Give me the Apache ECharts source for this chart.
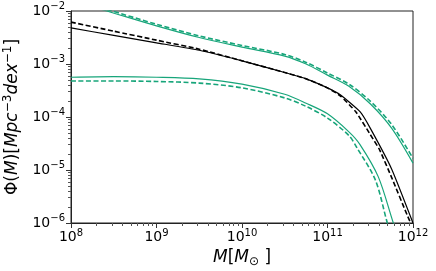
<!DOCTYPE html>
<html><head><meta charset="utf-8">
<script src="https://cdn.jsdelivr.net/npm/echarts@6/dist/echarts.min.js"></script>
<style>html,body{margin:0;padding:0;background:#fff}#c{width:436px;height:271px}</style>
</head><body><div id="c"></div>
<script>
// stellar mass values (M_sun)
const massBlackSolid = [1e8, 3.16e8, 1e9, 3.16e9, 1e10, 3.16e10, 5.62e10, 1e11, 1.41e11, 2.4e11, 3.16e11, 5.62e11, 1e12];
const phiBlackSolid  = [-2.32, -2.46, -2.60, -2.74, -2.94, -3.16, -3.28, -3.45, -3.58, -3.90, -4.21, -4.98, -6.0];
const massBlackDashed = [1e8, 3.16e8, 1e9, 3.16e9, 1e10, 3.16e10, 5.62e10, 1e11, 1.41e11, 2.14e11, 3.16e11, 4.07e11, 5.62e11, 8.7e11, 1e12];
const phiBlackDashed  = [-2.21, -2.38, -2.55, -2.72, -2.94, -3.16, -3.28, -3.45, -3.60, -3.90, -4.33, -4.62, -5.14, -5.88, -6.1];
const massGreenUpper = [1e8, 2.63e8, 1e9, 3.16e9, 1e10, 3.16e10, 5.62e10, 1e11, 1.78e11, 3.16e11, 5.62e11, 1e12];
const phiGreenUpperSolid  = [-1.80, -2.0, -2.28, -2.50, -2.68, -2.85, -3.00, -3.21, -3.42, -3.75, -4.21, -4.87];
const phiGreenUpperDashed = [-1.77, -1.97, -2.25, -2.47, -2.65, -2.82, -2.97, -3.17, -3.38, -3.70, -4.14, -4.78];
const massGreenLowerSolid = [1e8, 3.16e8, 1e9, 3.16e9, 1e10, 3.16e10, 5.62e10, 1e11, 1.78e11, 2.4e11, 3.93e11, 5.89e11, 6.31e11];
const phiGreenLowerSolid  = [-3.25, -3.24, -3.25, -3.28, -3.38, -3.57, -3.74, -3.94, -4.28, -4.52, -5.13, -6.0, -6.12];
const massGreenLowerDashed = [1e8, 3.16e8, 1e9, 3.16e9, 1e10, 3.16e10, 5.62e10, 1e11, 1.78e11, 2.21e11, 3.63e11, 5.01e11, 5.37e11];
const phiGreenLowerDashed  = [-3.32, -3.32, -3.33, -3.36, -3.45, -3.64, -3.80, -4.02, -4.35, -4.58, -5.19, -6.0, -6.12];

const xTicks = [1e8, 1e9, 1e10, 1e11, 1e12];
const xTickExp = ['8', '9', '10', '11', '12'];
const yTicks = [1e-6, 1e-5, 1e-4, 1e-3, 1e-2];
const yTickExp = ['\u22126', '\u22125', '\u22124', '\u22123', '\u22122'];

function minors(lo, hi) {
  const out = [];
  for (let e = lo; e < hi; e++) for (let k = 2; k <= 9; k++) out.push(k * Math.pow(10, e));
  return out;
}
function pairs(ms, ps) { return ms.map((m, i) => [m, Math.pow(10, ps[i])]); }

const green = '#17a57a';
const FONT = 'DejaVu Sans';
const tickRich = {
  b: { fontFamily: FONT, fontSize: 14, color: '#000' },
  s: { fontFamily: FONT, fontSize: 10, color: '#000', padding: [0, 0, 9, 0] }
};

const chart = echarts.init(document.getElementById('c'), null, { renderer: 'canvas' });
const baseX = { type: 'log', logBase: 10, min: 1e8, max: 1e12, gridIndex: 0 };
const baseY = { type: 'log', logBase: 10, min: 1e-6, max: 1e-2, gridIndex: 0 };

chart.setOption({
  animation: false,
  backgroundColor: '#fff',
  grid: { left: 71, top: 11, width: 342, height: 212, show: true, borderColor: '#222', borderWidth: 1, containLabel: false, outerBoundsMode: 'none' },
  xAxis: [
    Object.assign({}, baseX, {
      position: 'bottom',
      axisLine: { show: true, lineStyle: { color: '#222', width: 1 } },
      splitLine: { show: false },
      axisTick: { show: true, inside: false, length: 5, lineStyle: { color: '#333' }, customValues: xTicks },
      axisLabel: {
        show: true, margin: 5, customValues: xTicks,
        formatter: v => { const i = xTicks.findIndex(t => Math.abs(Math.log10(t) - Math.log10(v)) < 1e-6); return '{b|10}{s|' + xTickExp[i] + '}'; },
        rich: tickRich
      },
      name: '{i|M}{n|[}{i|M}{sub|\u2299}{n| ]}',
      nameLocation: 'middle', nameGap: 22,
      nameTextStyle: {
        rich: {
          i: { fontFamily: FONT, fontStyle: 'italic', fontSize: 17, color: '#000' },
          n: { fontFamily: FONT, fontSize: 17, color: '#000' },
          sub: { fontFamily: FONT, fontSize: 12, color: '#000', padding: [8, 0, 0, 0] }
        }
      }
    }),
    Object.assign({}, baseX, {
      position: 'bottom',
      axisLine: { show: false }, splitLine: { show: false }, axisLabel: { show: false },
      axisTick: { show: true, inside: false, length: 3, lineStyle: { color: '#555' }, customValues: minors(8, 12) }
    })
  ],
  yAxis: [
    Object.assign({}, baseY, {
      position: 'left',
      axisLine: { show: true, lineStyle: { color: '#222', width: 1 } },
      splitLine: { show: false },
      axisTick: { show: true, inside: false, length: 5, lineStyle: { color: '#333' }, customValues: yTicks },
      axisLabel: {
        show: true, margin: 6, customValues: yTicks,
        formatter: v => { const i = yTicks.findIndex(t => Math.abs(Math.log10(t) - Math.log10(v)) < 1e-6); return '{b|10}{s|' + yTickExp[i] + '}'; },
        rich: tickRich
      },
      name: '{n|\u03A6(}{i|M}{n|)[}{i|Mpc}{s|\u22123}{i|dex}{s|\u22121}{n|]}',
      nameLocation: 'middle', nameGap: 43, nameRotate: 90,
      nameTextStyle: {
        rich: {
          i: { fontFamily: FONT, fontStyle: 'italic', fontSize: 17, color: '#000' },
          n: { fontFamily: FONT, fontSize: 17, color: '#000' },
          s: { fontFamily: FONT, fontSize: 12, color: '#000', padding: [0, 0, 10, 0] }
        }
      }
    }),
    Object.assign({}, baseY, {
      position: 'left',
      axisLine: { show: false }, splitLine: { show: false }, axisLabel: { show: false },
      axisTick: { show: true, inside: false, length: 3, lineStyle: { color: '#555' }, customValues: minors(-6, -2) }
    })
  ],
  series: [
    { type: 'line', xAxisIndex: 0, yAxisIndex: 0, data: pairs(massGreenUpper, phiGreenUpperSolid), showSymbol: false, clip: true, smooth: 0.3, lineStyle: { color: green, width: 1.2 } },
    { type: 'line', xAxisIndex: 0, yAxisIndex: 0, data: pairs(massGreenUpper, phiGreenUpperDashed), showSymbol: false, clip: true, smooth: 0.3, lineStyle: { color: green, width: 1.6, type: [5, 2.5] } },
    { type: 'line', xAxisIndex: 0, yAxisIndex: 0, data: pairs(massGreenLowerSolid, phiGreenLowerSolid), showSymbol: false, clip: true, smooth: 0.3, lineStyle: { color: green, width: 1.2 } },
    { type: 'line', xAxisIndex: 0, yAxisIndex: 0, data: pairs(massGreenLowerDashed, phiGreenLowerDashed), showSymbol: false, clip: true, smooth: 0.3, lineStyle: { color: green, width: 1.6, type: [5, 2.5] } },
    { type: 'line', xAxisIndex: 0, yAxisIndex: 0, data: pairs(massBlackSolid, phiBlackSolid), showSymbol: false, clip: true, smooth: 0.15, lineStyle: { color: '#000', width: 1.2 } },
    { type: 'line', xAxisIndex: 0, yAxisIndex: 0, data: pairs(massBlackDashed, phiBlackDashed), showSymbol: false, clip: true, smooth: 0.15, lineStyle: { color: '#000', width: 1.6, type: [5, 2.5] } }
  ]
});
</script></body></html>
